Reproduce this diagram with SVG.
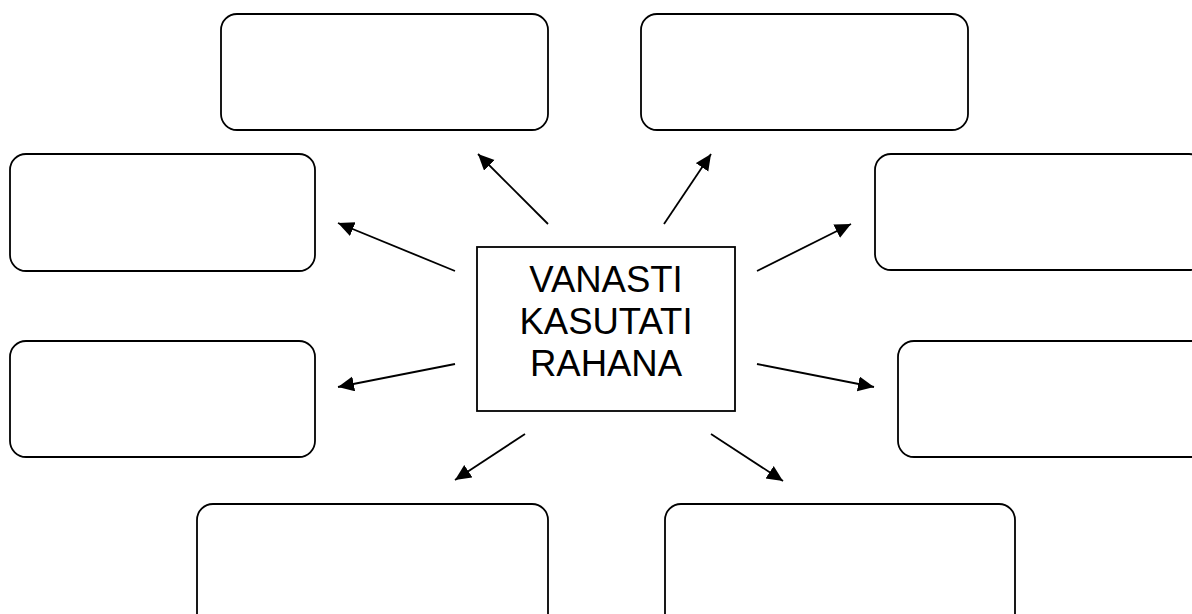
<svg xmlns="http://www.w3.org/2000/svg" width="1192" height="614" viewBox="0 0 1192 614">
<style>
.box{fill:#fff;stroke:#000;stroke-width:1.8}
.conn{stroke:#000;stroke-width:1.8;fill:none;marker-end:url(#ah)}
.lbl{font-family:"Liberation Sans",Arial,sans-serif;font-size:36.5px;fill:#000;text-anchor:middle}
</style>
<defs>
<marker id="ah" markerUnits="userSpaceOnUse" markerWidth="18" markerHeight="16" refX="16" refY="7.5" orient="auto" viewBox="0 0 18 16">
<path d="M0,0 L16,7.5 L0,15 z" fill="#000"/>
</marker>
</defs>
<rect width="1192" height="614" fill="#fff"/>
<g id="node-top-left"><rect class="box" x="221" y="14" width="327" height="116" rx="16"/></g>
<g id="node-top-right"><rect class="box" x="641" y="14" width="327" height="116" rx="16"/></g>
<g id="node-left-upper"><rect class="box" x="10" y="154" width="305" height="117" rx="16"/></g>
<g id="node-right-upper"><rect class="box" x="875" y="154" width="330" height="116" rx="16"/></g>
<g id="node-left-lower"><rect class="box" x="10" y="341" width="305" height="116" rx="16"/></g>
<g id="node-right-lower"><rect class="box" x="898" y="341" width="310" height="116" rx="16"/></g>
<g id="node-bottom-left"><rect class="box" x="197" y="504" width="351" height="130" rx="16"/></g>
<g id="node-bottom-right"><rect class="box" x="665" y="504" width="350" height="130" rx="16"/></g>
<g id="node-center">
<rect class="box" x="477" y="247" width="258" height="164"/>
<text class="lbl" x="606" y="292">VANASTI</text>
<text class="lbl" x="606" y="334">KASUTATI</text>
<text class="lbl" x="606" y="376">RAHANA</text>
</g>
<g id="connectors">
<line class="conn" x1="548" y1="224" x2="478" y2="154"/>
<line class="conn" x1="664" y1="224" x2="711" y2="154"/>
<line class="conn" x1="455" y1="271" x2="338" y2="223"/>
<line class="conn" x1="757" y1="271" x2="851" y2="224"/>
<line class="conn" x1="455" y1="364" x2="338" y2="387"/>
<line class="conn" x1="757" y1="364" x2="874" y2="387"/>
<line class="conn" x1="525" y1="434" x2="455" y2="480"/>
<line class="conn" x1="711" y1="434" x2="783" y2="481"/>
</g>
</svg>
